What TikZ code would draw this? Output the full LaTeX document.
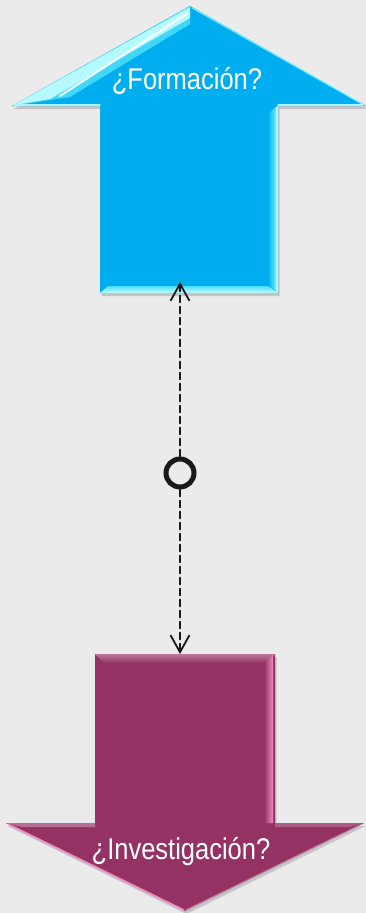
\documentclass[tikz,border=0pt]{standalone}
\usepackage{fontspec}
\newfontfamily\arrowfont[FakeStretch=0.85]{Liberation Sans}
\usetikzlibrary{arrows.meta}
\definecolor{paper}{HTML}{EBEBEB}
\definecolor{formblue}{HTML}{00AEEF}
\definecolor{formlight}{HTML}{6CF2FF}
\definecolor{invplum}{HTML}{953264}
\definecolor{invlight}{HTML}{F08CC4}
\tikzset{
  big arrows/.style={
    x=1pt,
    y=-1pt,
    line cap=round,
    line join=round
  },
  arrow body/.style={
    preaction={fill=black,opacity=0.16,
      transform canvas={xshift=1.5pt,yshift=-3pt}}
  },
  arrow text/.style={
    font=\arrowfont\fontsize{30}{30}\selectfont,
    text=white,
    inner sep=0pt,
    anchor=base
  },
  link ring/.style={
    circle,
    draw=black!90,
    line width=5pt,
    minimum size=28pt,
    inner sep=0pt
  },
  link arrow/.style={
    draw=black!90,
    line width=1.8pt,
    dash pattern=on 7pt off 4pt,
    -{Straight Barb[length=17pt,width=19pt]}
  }
}

\begin{document}
\begin{tikzpicture}[big arrows]
  \useasboundingbox (0,0) rectangle (366,913);
  \fill[paper] (0,0) rectangle (366,913);

  % up arrow
  \fill[formblue,arrow body] (190,6) -- (366,106) -- (278,106) -- (278,293)
    -- (100,293) -- (100,106) -- (12,106) -- cycle;
  \fill[formlight!60!formblue] (12,106) -- (190,6) -- (190,24) -- (70,97) -- cycle;
  \fill[formlight!50!white] (14,105) -- (190,7) -- (190,18) -- (50,99) -- cycle;
  \draw[white,line width=2pt,opacity=0.9] (60,96) -- (188,13);
  \shade[left color=formblue,right color=formlight] (268,114) -- (276,107)
    -- (276,291) -- (268,285) -- cycle;
  \draw[formlight!50!white,line width=1.5pt] (277,107) -- (277,292);
  \shade[top color=formlight!70!formblue,bottom color=formlight!40!white]
    (100,293) -- (108,286) -- (268,286) -- (278,293) -- cycle;
  \draw[formlight!60!white,line width=1.5pt] (14,105) -- (100,105);
  \draw[formlight!60!white,line width=1.5pt] (278,105) -- (363,105);
  \draw[formlight,line width=1pt] (192,8) -- (362,104);

  % down arrow
  \fill[invplum,arrow body] (95,654) -- (275,654) -- (275,823) -- (364,823)
    -- (185,911) -- (6,823) -- (95,823) -- cycle;
  \shade[top color=invplum!65!white,bottom color=invplum] (95,654) -- (275,654)
    -- (266,663) -- (104,663) -- cycle;
  \shade[left color=invplum,right color=invlight] (264,663) -- (273,655)
    -- (273,823) -- (264,823) -- cycle;
  \fill[invplum!70!white] (6,823) -- (95,823) -- (95,827) -- (22,827) -- cycle;
  \fill[invplum!80!white] (275,823) -- (364,823) -- (350,827) -- (275,827) -- cycle;
  \draw[invlight,line width=1.5pt] (8,824) -- (184,910);
  \draw[invplum!60!white,line width=1pt] (186,910) -- (362,824);

  \node[arrow text] (formacion) at (187,89) {¿Formación?};
  \node[arrow text] (investigacion) at (181,859) {¿Investigación?};

  % link between the two
  \coordinate (formacion foot) at (180,282);
  \coordinate (investigacion head) at (180,654);
  \node[link ring] (link) at (180,473) {};
  \draw[link arrow] (link) -- (formacion foot);
  \draw[link arrow] (link) -- (investigacion head);
\end{tikzpicture}
\end{document}
